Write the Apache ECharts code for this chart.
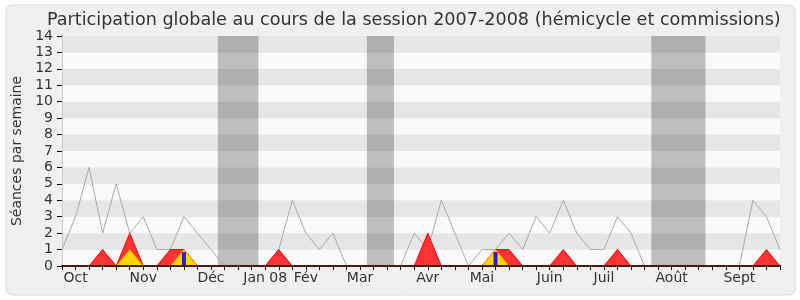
<!DOCTYPE html>
<html><head><meta charset="utf-8">
<script src="https://cdn.jsdelivr.net/npm/echarts@6/dist/echarts.min.js"></script>
<style>html,body{margin:0;padding:0;background:#fff}#c{width:800px;height:300px}</style>
</head><body><div id="c"></div>
<script>
// Week index (0..53) of each month label
const monthNames = ['Oct','Nov','Déc','Jan 08','Fév','Mar','Avr','Mai','Juin','Juil','Août','Sept'];
const monthWeeks = [1, 6, 11, 15, 18, 22, 27, 31, 36, 40, 45, 50];
// Weekly values
const totalSeances = [1,3,6,2,5,2,3,1,1,3,2,1,0,0,0,0,1,4,2,1,2,0,0,0,0,0,2,1,4,2,0,1,1,2,1,3,2,4,2,1,1,3,2,0,0,0,0,0,0,0,0,4,3,1];
const presenceRouge = [0,0,0,1,0,2,0,0,1,1,0,0,0,0,0,0,1,0,0,0,0,0,0,0,0,0,0,2,0,0,0,0,1,1,0,0,0,1,0,0,0,1,0,0,0,0,0,0,0,0,0,0,1,0];
const presenceJaune = [0,0,0,0,0,1,0,0,0,1,0,0,0,0,0,0,0,0,0,0,0,0,0,0,0,0,0,0,0,0,0,0,1,0,0,0,0,0,0,0,0,0,0,0,0,0,0,0,0,0,0,0,0,0];
const barresBleues = [[9, 0.85], [32, 0.85]];
// Vacation periods (start/end in week units)
const vacances = [[11.5, 14.5], [22.5, 24.5], [43.5, 47.5]];
const yTicks = [0, 14, 1];

const toPairs = arr => arr.map((v, i) => [i, v]);
const lastWeek = totalSeances.length - 1;
const labelMap = {};
monthWeeks.forEach((w, i) => labelMap[w] = monthNames[i]);

const chart = echarts.init(document.getElementById('c'), null, {renderer: 'canvas'});
const FONT = 'DejaVu Sans';
chart.setOption({
  animation: false,
  backgroundColor: '#ffffff',
  textStyle: {fontFamily: FONT},
  title: {
    text: 'Participation globale au cours de la session 2007-2008 (hémicycle et commissions)',
    left: 42, top: 6,
    textStyle: {fontFamily: FONT, fontSize: 17.6, fontWeight: 'normal', color: '#333'}
  },
  graphic: {elements: [{
    type: 'rect', z: -100, silent: true,
    shape: {x: 6, y: 5, width: 789, height: 290, r: 6},
    style: {fill: '#f0f0f0', stroke: '#dcdcdc', lineWidth: 1}
  }]},
  grid: {left: 62, right: 20, top: 36, bottom: 34},
  xAxis: [{
    type: 'value', min: 0, max: lastWeek, interval: 1, z: 10,
    axisLine: {show: true, onZero: false, lineStyle: {color: '#4a1a10', width: 2}},
    axisTick: {show: true, length: 4, lineStyle: {color: '#000'}},
    splitLine: {show: false},
    axisLabel: {
      show: true, margin: 5, fontSize: 14, color: '#333', fontFamily: FONT,
      showMinLabel: true, showMaxLabel: true,
      formatter: v => labelMap[v] || ''
    }
  }, {
    type: 'value', position: 'top', min: 0, max: lastWeek, interval: 1,
    axisLine: {show: false},
    axisTick: {show: true, length: 1, lineStyle: {color: '#000'}},
    axisLabel: {show: false}, splitLine: {show: false}
  }],
  yAxis: [{
    type: 'value', min: yTicks[0], max: yTicks[1], interval: yTicks[2],
    name: 'Séances par semaine', nameLocation: 'middle', nameGap: 37,
    nameTextStyle: {fontSize: 14, color: '#333', fontFamily: FONT},
    axisLine: {show: true, lineStyle: {color: '#000'}},
    axisTick: {show: true, length: 5, lineStyle: {color: '#000'}},
    axisLabel: {fontSize: 14, color: '#333', margin: 9, fontFamily: FONT},
    splitLine: {show: false},
    splitArea: {show: true, areaStyle: {color: ['#fafafa', '#e6e6e6']}}
  }, {
    type: 'value', position: 'right', min: yTicks[0], max: yTicks[1], interval: yTicks[2],
    axisLine: {show: true, lineStyle: {color: '#cccccc'}},
    axisTick: {show: false}, axisLabel: {show: false}, splitLine: {show: false}
  }],
  series: [{
    name: 'total', type: 'line', data: toPairs(totalSeances), symbol: 'none',
    lineStyle: {color: '#aaaaaa', width: 1}, z: 2,
    markArea: {
      silent: true,
      itemStyle: {color: 'rgba(0,0,0,0.24)'},
      data: vacances.map(v => [{xAxis: v[0]}, {xAxis: v[1]}])
    }
  }, {
    name: 'rouge', type: 'line', data: toPairs(presenceRouge), symbol: 'none', z: 3,
    lineStyle: {color: '#ff0000', width: 1},
    areaStyle: {color: '#ff3333', opacity: 1}
  }, {
    name: 'jaune', type: 'line', data: toPairs(presenceJaune), symbol: 'none', z: 4,
    lineStyle: {color: '#ff8c00', width: 1},
    areaStyle: {color: '#ffd700', opacity: 1}
  }, {
    name: 'bleu', type: 'bar', data: barresBleues, barWidth: 4, z: 5,
    itemStyle: {color: '#2222dd'}
  }]
});
</script></body></html>
